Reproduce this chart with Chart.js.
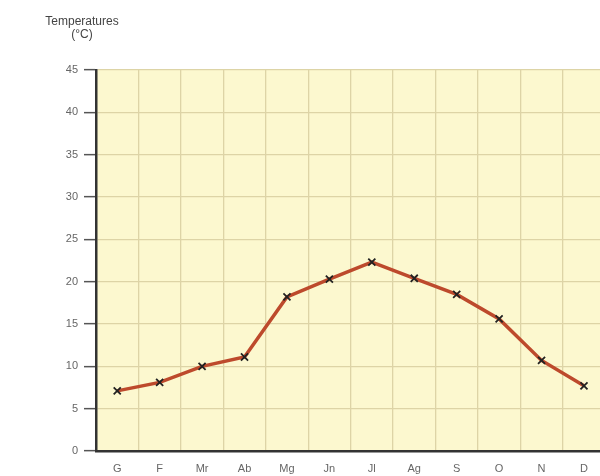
<!DOCTYPE html>
<html><head><meta charset="utf-8">
<script src="https://cdn.jsdelivr.net/npm/chart.js@4"></script>
<style>html,body{margin:0;padding:0;overflow:hidden;background:#fff;width:600px;height:476px}#wrap{width:612px;height:476px}</style>
</head><body><div id="wrap"><canvas id="c" width="612" height="476"></canvas></div>
<script>
const months = ['G','F','Mr','Ab','Mg','Jn','Jl','Ag','S','O','N','D'];
const temperatures = [7.1, 8.1, 10.0, 11.1, 18.2, 20.3, 22.3, 20.4, 18.5, 15.6, 10.7, 7.7];
const yTicks = [0,5,10,15,20,25,30,35,40,45];
const titleLines = ['Temperatures','(°C)'];

const bgPlugin = {
  id:'bg',
  beforeDraw(chart){
    const {ctx, chartArea:a} = chart;
    ctx.save();
    ctx.fillStyle = '#fcf8cf';
    ctx.fillRect(a.left, a.top, a.right-a.left, a.bottom-a.top);
    ctx.restore();
  },
  afterDraw(chart){
    const ctx = chart.ctx;
    ctx.save();
    ctx.fillStyle = '#444';
    ctx.font = '12px "Liberation Sans", Arial, sans-serif';
    ctx.textAlign = 'center';
    ctx.textBaseline = 'middle';
    ctx.fillText(titleLines[0], 82, 22);
    ctx.fillText(titleLines[1], 82, 35);
    ctx.restore();
  }
};

new Chart(document.getElementById('c'), {
  type:'line',
  data:{labels:months, datasets:[{
    data:temperatures,
    borderColor:'#bd4a2c',
    borderWidth:3.5,
    pointStyle:'crossRot',
    pointRadius:5,
    pointBorderColor:'#222',
    pointBorderWidth:1.8,
    pointBackgroundColor:'#222',
    tension:0
  }]},
  options:{
    responsive:false, animation:false,
    layout:{padding:{top:70,left:0,right:6,bottom:0}},
    plugins:{legend:{display:false}, tooltip:{enabled:false}},
    scales:{
      x:{
        type:'category', offset:true,
        grid:{offset:true, color:'#ddd4a6', lineWidth:1.3, drawTicks:false},
        border:{display:true, color:'#333', width:2.5},
        ticks:{color:'#666', font:{size:11, family:'"Liberation Sans", Arial, sans-serif'}, padding:11, maxRotation:0, autoSkip:false},
        afterFit(s){ s.height = 25; }
      },
      y:{
        min:0, max:45,
        afterBuildTicks(s){ s.ticks = yTicks.map(v=>({value:v})); },
        grid:{color:'#ddd4a6', lineWidth:1.3, tickColor:'#555', tickLength:12, tickWidth:1.5},
        border:{display:true, color:'#333', width:2.5},
        ticks:{color:'#666', font:{size:11, family:'"Liberation Sans", Arial, sans-serif'}, padding:6},
        afterFit(s){ s.width = 96; }
      }
    }
  },
  plugins:[bgPlugin]
});
</script></body></html>
